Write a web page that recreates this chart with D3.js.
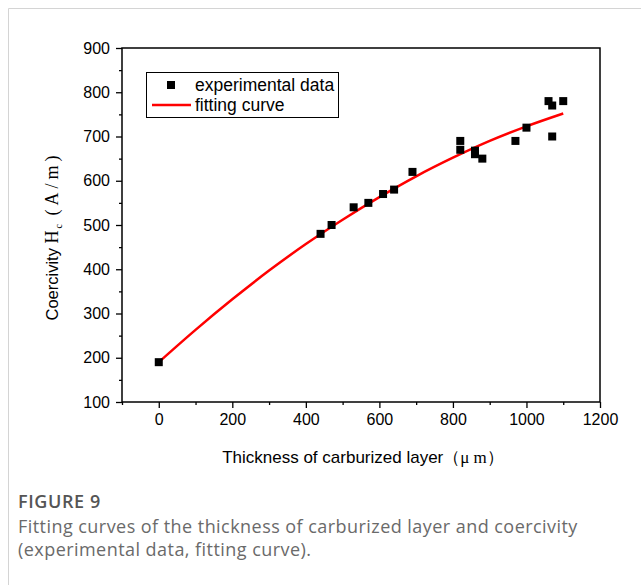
<!DOCTYPE html>
<html>
<head>
<meta charset="utf-8">
<script src="https://cdn.jsdelivr.net/npm/d3@7/dist/d3.min.js"></script>
<style>
  html, body { margin: 0; padding: 0; background: #fff; }
  svg { display: block; }
</style>
</head>
<body>
<svg id="chart" width="641" height="585"></svg>
<script>
// ---- data ----
const expX = [0, 440, 470, 530, 570, 610, 640, 690, 820, 820, 860, 860, 880, 970, 1000, 1060, 1070, 1070, 1100];
const expY = [190, 480, 500, 540, 550, 570, 580, 620, 690, 670, 668, 660, 650, 690, 720, 780, 770, 700, 780];
const fitX = [0, 100, 200, 300, 400, 500, 600, 700, 800, 900, 1000, 1100];
const fitY = [190, 263, 332, 397, 457, 512, 563, 610, 652, 690, 723, 752];
const xTicks = [0, 200, 400, 600, 800, 1000, 1200];
const yTicks = [100, 200, 300, 400, 500, 600, 700, 800, 900];
const xMinor = [-100, 100, 300, 500, 700, 900, 1100];
const yMinor = [150, 250, 350, 450, 550, 650, 750, 850];
const legendLabels = ["experimental data", "fitting curve"];

const svg = d3.select("#chart");
const font = "'Liberation Sans', Arial, sans-serif";
const serif = "'Liberation Serif', serif";

// card border
svg.append("path").attr("d", "M8.5,585 V8.5 H641").attr("fill", "none").attr("stroke", "#d4d4d4").attr("stroke-width", 1);

const L = 122, R = 600, T = 48, B = 402;
const x = d3.scaleLinear().domain([-100, 1200]).range([L, R]);
const y = d3.scaleLinear().domain([100, 900]).range([B, T]);

// axes
const xAxis = svg.append("g").attr("transform", `translate(0,${B})`)
  .call(d3.axisBottom(x).tickValues(xTicks).tickSize(6).tickPadding(6).tickFormat(d3.format("d")));
const xAxisMinor = svg.append("g").attr("transform", `translate(0,${B})`)
  .call(d3.axisBottom(x).tickValues(xMinor).tickSize(3).tickFormat(""));
const yAxis = svg.append("g").attr("transform", `translate(${L},0)`)
  .call(d3.axisLeft(y).tickValues(yTicks).tickSize(6).tickPadding(6).tickFormat(d3.format("d")));
const yAxisMinor = svg.append("g").attr("transform", `translate(${L},0)`)
  .call(d3.axisLeft(y).tickValues(yMinor).tickSize(3).tickFormat(""));

[xAxis, xAxisMinor, yAxis, yAxisMinor].forEach(g => {
  g.select(".domain").remove();
  g.selectAll("line").attr("stroke", "#000").attr("stroke-width", 1.3);
  g.selectAll("text").attr("fill", "#000").style("font-family", font).style("font-size", "16px");
});

// plot frame
svg.append("rect").attr("x", L).attr("y", T).attr("width", R - L).attr("height", B - T)
  .attr("fill", "none").attr("stroke", "#000").attr("stroke-width", 1.5);

// fitting curve
const fitData = fitX.map((v, i) => [v, fitY[i]]);
svg.append("path").datum(fitData)
  .attr("d", d3.line().x(d => x(d[0])).y(d => y(d[1])).curve(d3.curveMonotoneX))
  .attr("fill", "none").attr("stroke", "#ff0000").attr("stroke-width", 2.5);

// experimental points
const ms = 8;
svg.append("g").selectAll("rect").data(expX.map((v, i) => [v, expY[i]])).join("rect")
  .attr("x", d => x(d[0]) - ms / 2).attr("y", d => y(d[1]) - ms / 2)
  .attr("width", ms).attr("height", ms).attr("fill", "#000");

// legend
const lg = svg.append("g");
lg.append("rect").attr("x", 146.5).attr("y", 72.5).attr("width", 192).attr("height", 45)
  .attr("fill", "#fff").attr("stroke", "#000").attr("stroke-width", 1);
lg.append("rect").attr("x", 167).attr("y", 81).attr("width", 8).attr("height", 8).attr("fill", "#000");
lg.append("line").attr("x1", 152).attr("x2", 191).attr("y1", 105).attr("y2", 105)
  .attr("stroke", "#ff0000").attr("stroke-width", 2.5);
lg.selectAll("text").data(legendLabels).join("text")
  .attr("x", 195).attr("y", (d, i) => 91 + i * 19.5)
  .style("font-family", font).style("font-size", "17.5px").attr("fill", "#000")
  .text(d => d);

// axis titles
const xt = svg.append("text").attr("x", 363).attr("y", 463).attr("text-anchor", "middle")
  .style("font-family", font).style("font-size", "17px").attr("fill", "#000");
xt.append("tspan").text("Thickness of carburized layer（");
xt.append("tspan").style("font-family", serif).text("μ m");
xt.append("tspan").text("）");

const yt = svg.append("text").attr("transform", "translate(58,236) rotate(-90)")
  .attr("text-anchor", "middle").style("font-family", font).style("font-size", "16.5px").attr("fill", "#000");
yt.append("tspan").text("Coercivity ");
yt.append("tspan").style("font-family", serif).style("font-size", "18px").style("letter-spacing", "2px").text("H");
yt.append("tspan").style("font-family", serif).style("font-size", "10px").attr("dy", 4).text("c");
yt.append("tspan").style("font-family", serif).style("font-size", "18px").style("letter-spacing", "4px").attr("dy", -4).text(" (A/m)");

// caption
const capFont = "'Open Sans', 'Noto Sans', sans-serif";
svg.append("text").attr("x", 18).attr("y", 508)
  .style("font-family", capFont).style("font-size", "18px").style("font-weight", "600")
  .style("letter-spacing", "0.6px").attr("fill", "#555")
  .text("FIGURE 9");
svg.append("text").attr("x", 18).attr("y", 533)
  .style("font-family", capFont).style("font-size", "18px").style("letter-spacing", "0.45px").attr("fill", "#6a6a6a")
  .text("Fitting curves of the thickness of carburized layer and coercivity");
svg.append("text").attr("x", 18).attr("y", 556)
  .style("font-family", capFont).style("font-size", "18px").style("letter-spacing", "0.45px").attr("fill", "#6a6a6a")
  .text("(experimental data, fitting curve).");
</script>
</body>
</html>
